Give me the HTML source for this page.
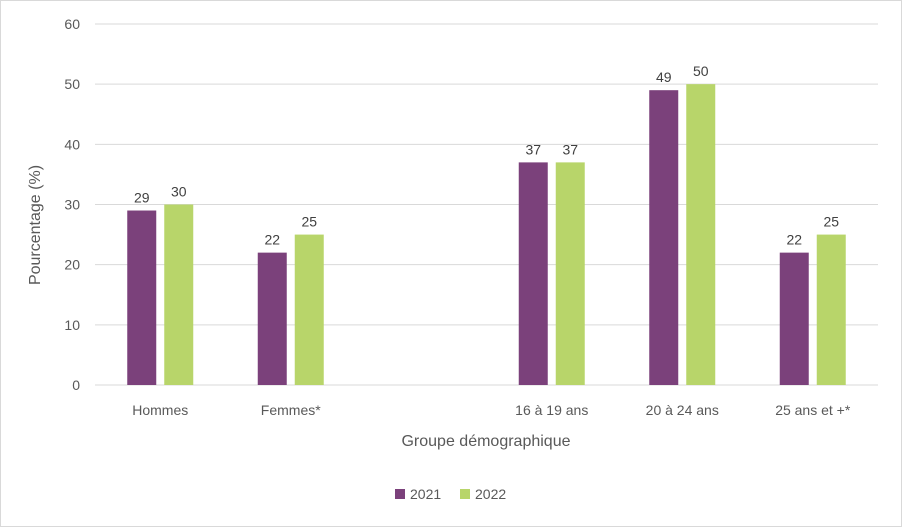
<!DOCTYPE html>
<html><head><meta charset="utf-8"><style>
html,body{margin:0;padding:0;background:#fff}
svg{display:block;font-family:"Liberation Sans",Arial,sans-serif}
</style></head><body>
<svg id="chart" width="902" height="527">
<rect x="0.5" y="0.5" width="901" height="526" fill="#fff" stroke="#d9d9d9"/>
<g id="grid"></g><g id="bars"></g><g id="labels"></g>
<text x="20" y="205" transform="rotate(-90 40 205)" font-size="16" fill="#595959" text-anchor="middle">Pourcentage (%)</text>
<text x="486" y="446" font-size="16" fill="#595959" text-anchor="middle">Groupe démographique</text>
<g>
<rect x="395" y="489" width="10" height="10" fill="#7b417b"/>
<text x="410" y="499" font-size="14" fill="#595959">2021</text>
<rect x="460" y="489" width="10" height="10" fill="#b8d56a"/>
<text x="475" y="499" font-size="14" fill="#595959">2022</text>
</g>
</svg>
<script>
const categories=["Hommes","Femmes*","","16 à 19 ans","20 à 24 ans","25 ans et +*"];
const s2021=[29,22,null,37,49,22];
const s2022=[30,25,null,37,50,25];
const ticks=[0,10,20,30,40,50,60];
const NS="http://www.w3.org/2000/svg";
const X0=95,X1=878,Y0=385,Ytop=24;
const y=v=>Y0-(v/60)*(Y0-Ytop);
const band=(X1-X0)/categories.length;
const xc=i=>X0+band*(i+0.5);
function mk(t,a,p){const e=document.createElementNS(NS,t);for(const k in a)e.setAttribute(k,a[k]);document.getElementById(p).appendChild(e);return e;}
ticks.forEach(t=>{
 const l=mk("line",{x1:X0,x2:X1,y1:y(t),y2:y(t),stroke:"#d9d9d9","stroke-width":1},"grid");
 
 
 const tx=mk("text",{x:80,y:y(t)+5,"font-size":14,fill:"#595959","text-anchor":"end"},"grid");
 tx.textContent=t;
 
 
});
const bw=29,gap=8;
categories.forEach((c,i)=>{
 const lb=mk("text",{x:xc(i),y:415,"font-size":14,fill:"#595959","text-anchor":"middle"},"labels");
 lb.textContent=c;
 
 
 [[s2021,"#7b417b",-1],[s2022,"#b8d56a",1]].forEach(([s,col,side])=>{
  const v=s[i]; if(v==null) return;
  const x=side<0?xc(i)-gap/2-bw:xc(i)+gap/2;
  const r=mk("rect",{x:x,y:y(v),width:bw,height:Y0-y(v),fill:col},"bars");
  
  
  const t=mk("text",{x:x+bw/2,y:y(v)-8,"font-size":14,fill:"#404040","text-anchor":"middle"},"labels");
  t.textContent=v;
  
  
 });
});
</script>
</body></html>
